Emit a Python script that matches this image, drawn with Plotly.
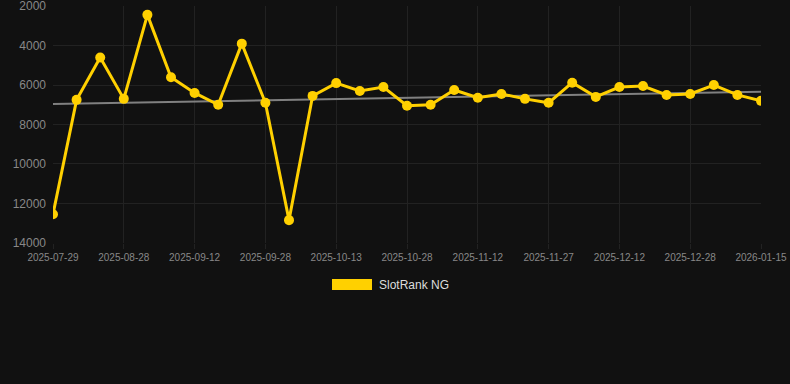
import plotly.graph_objects as go

dates = ["2025-07-29", "2025-08-08", "2025-08-18", "2025-08-28", "2025-09-02", "2025-09-07",
         "2025-09-12", "2025-09-17", "2025-09-22", "2025-09-28", "2025-10-03", "2025-10-08",
         "2025-10-13", "2025-10-18", "2025-10-23", "2025-10-28", "2025-11-02", "2025-11-07",
         "2025-11-12", "2025-11-17", "2025-11-22", "2025-11-27", "2025-12-02", "2025-12-07",
         "2025-12-12", "2025-12-17", "2025-12-22", "2025-12-28", "2026-01-03", "2026-01-09",
         "2026-01-15"]
ranks = [12550, 6750, 4600, 6700, 2440, 5600, 6400, 7000, 3900, 6900, 12850, 6550,
         5900, 6300, 6100, 7050, 7000, 6250, 6640, 6450, 6700, 6900, 5880, 6600,
         6100, 6050, 6500, 6450, 6000, 6500, 6800]
trend_dates = [dates[0], dates[-1]]
trend_values = [6960, 6336]
series_name = "SlotRank NG"
y_ticks = [2000, 4000, 6000, 8000, 10000, 12000, 14000]

fig = go.Figure()
fig.add_trace(go.Scatter(x=trend_dates, y=trend_values, mode="lines",
                         line=dict(color="#808080", width=2), hoverinfo="skip",
                         showlegend=False))
fig.add_trace(go.Scatter(x=dates, y=ranks, mode="lines+markers", name=series_name,
                         line=dict(color="#FFD000", width=3),
                         marker=dict(color="#FFD000", size=10), showlegend=False))

fig.add_shape(type="rect", xref="paper", yref="paper",
              x0=(332 - 53) / 708, x1=(372 - 53) / 708,
              y0=-(290 - 243) / 237, y1=-(279 - 243) / 237,
              fillcolor="#FFD000", line=dict(width=0))
fig.add_annotation(text=series_name, xref="paper", yref="paper",
                   x=(377 - 53) / 708, y=-(284.5 - 243) / 237,
                   xanchor="left", yanchor="middle", showarrow=False,
                   font=dict(color="#dddddd", size=12, family="Liberation Sans, Arial"))

fig.update_layout(
    width=790, height=384,
    margin=dict(l=53, r=29, t=6, b=141, autoexpand=False),
    paper_bgcolor="#111111", plot_bgcolor="#111111",
    font=dict(family="Liberation Sans, Arial", color="#888888"),
    showlegend=False,
    xaxis=dict(type="category", tickmode="array",
               tickvals=dates[::3], ticktext=dates[::3],
               categoryorder="array", categoryarray=dates,
               range=[0, len(dates) - 1], automargin=False,
               showgrid=True, gridcolor="#222222", gridwidth=1,
               zeroline=False, showline=False,
               ticks="outside", ticklen=5, tickcolor="#222222",
               tickfont=dict(size=10, color="#888888"),
               ticklabeloverflow="allow"),
    yaxis=dict(range=[14010, 1990], tickvals=y_ticks, tickformat="d",
               automargin=False,
               showgrid=True, gridcolor="#222222", gridwidth=1,
               zeroline=False, showline=False,
               tickfont=dict(size=12, color="#888888"), ticklabelstandoff=6,
               ticklabeloverflow="allow"),
)

fig.write_html("out.html", config={"displayModeBar": False},
               post_script="document.body.style.margin='0';document.body.style.overflow='hidden';document.body.style.background='#111111';")
